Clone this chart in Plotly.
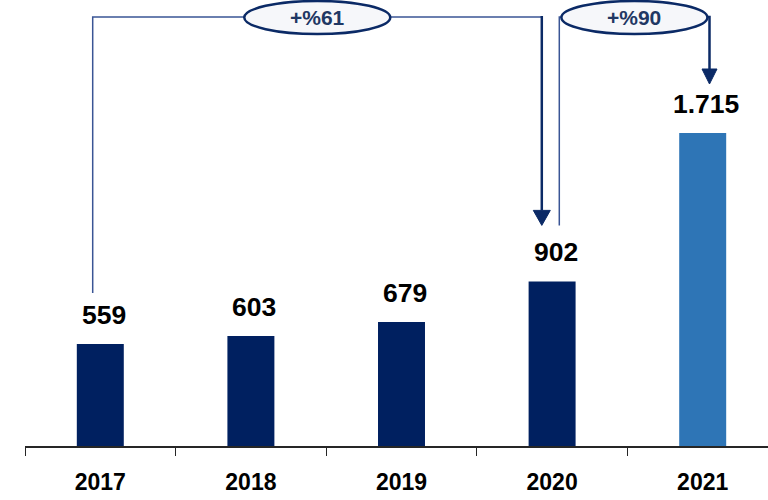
import plotly.graph_objects as go

years = ["2017", "2018", "2019", "2020", "2021"]
values = [559, 603, 679, 902, 1715]
value_labels = ["559", "603", "679", "902", "1.715"]
bar_colors = ["#002060", "#002060", "#002060", "#002060", "#2E75B6"]
growth_labels = ["+%61", "+%90"]  # 2017->2020, 2020->2021

NAVY = "#0B2A66"
THIN = "#3A5595"
FONT = "Liberation Sans, Arial, sans-serif"

# layout geometry
W, H = 768, 500
ML, MB = 25, 54
PLOT_H = H - MB
CAT_PX = 150.6
PX_PER_UNIT = 0.1825
YMAX = PLOT_H / PX_PER_UNIT
XMAX = -0.5 + (W - ML) / CAT_PX


def dy(px):
    return px / PX_PER_UNIT


def dx(px):
    return px / CAT_PX


idx = list(range(len(years)))
fig = go.Figure()
fig.add_trace(go.Bar(
    x=idx, y=values,
    marker=dict(color=bar_colors, line=dict(width=0)),
    width=0.312, hoverinfo="skip",
))

# value labels
for i, (v, t) in enumerate(zip(values, value_labels)):
    fig.add_annotation(x=i, y=v, text=t, showarrow=False, yanchor="middle",
                       yshift=29, xshift=3.5,
                       font=dict(family=FONT, size=26.5, color="#000000", weight="bold"))

shapes = []
top_y = YMAX - dy(17)
ell_h_top = YMAX - dy(1)
ell_h_bot = YMAX - dy(34)
ell_half = dx(73)
head_h = dy(15)


def arrow_head(x, tip, half_w_px):
    hw = dx(half_w_px)
    return dict(type="path", xref="x", yref="y",
                path=f"M {x-hw},{tip+head_h} L {x+hw},{tip+head_h} L {x},{tip} Z",
                fillcolor=NAVY, line=dict(color=NAVY, width=1), layer="above")


# bracket 1: 2017 -> 2020
x_start1 = 0 - dx(7.6)
y_start1 = values[0] + dy(51)
x_end1 = 3 - dx(10.3)
tip1 = values[3] + dy(56)
c1 = (x_start1 + x_end1) / 2
shapes.append(dict(type="path", xref="x", yref="y",
                   path=f"M {x_start1},{y_start1} L {x_start1},{top_y} L {c1-ell_half},{top_y}",
                   line=dict(color=THIN, width=1.5)))
shapes.append(dict(type="path", xref="x", yref="y",
                   path=f"M {c1+ell_half},{top_y} L {x_end1},{top_y}",
                   line=dict(color=THIN, width=1.5)))
shapes.append(dict(type="line", xref="x", yref="y", x0=x_end1, x1=x_end1,
                   y0=top_y + dy(1), y1=tip1 + head_h, line=dict(color=NAVY, width=2.5)))
shapes.append(arrow_head(x_end1, tip1, 8.5))

# bracket 2: 2020 -> 2021
x_start2 = 3 + dx(7.2)
y_start2 = values[3] + dy(56)
x_end2 = 4 + dx(6.8)
tip2 = values[4] + dy(49)
c2 = (x_start2 + x_end2) / 2
shapes.append(dict(type="path", xref="x", yref="y",
                   path=f"M {x_start2},{y_start2} L {x_start2},{top_y} L {c2-ell_half},{top_y}",
                   line=dict(color=THIN, width=1.5)))
shapes.append(dict(type="path", xref="x", yref="y",
                   path=f"M {c2+ell_half},{top_y} L {x_end2},{top_y} L {x_end2},{tip2+head_h}",
                   line=dict(color=NAVY, width=2.5)))
shapes.append(arrow_head(x_end2, tip2, 7.5))

# ellipses
for c in (c1, c2):
    shapes.append(dict(type="circle", xref="x", yref="y",
                       x0=c - ell_half, x1=c + ell_half, y0=ell_h_bot, y1=ell_h_top,
                       fillcolor="#F6F7FA", line=dict(color=NAVY, width=2.5), layer="above"))

for c, t in zip((c1, c2), growth_labels):
    fig.add_annotation(x=c, y=(ell_h_top + ell_h_bot) / 2, text=t, showarrow=False,
                       yanchor="middle",
                       font=dict(family=FONT, size=21, color="#1F3864", weight="bold"))

boundaries = [i - 0.5 for i in range(len(years) + 1)]

fig.update_layout(
    width=W, height=H,
    margin=dict(l=ML, r=0, t=0, b=MB, pad=0),
    plot_bgcolor="white", paper_bgcolor="white",
    showlegend=False,
    shapes=shapes,
    xaxis=dict(range=[-0.5, XMAX], tickmode="array",
               tickvals=idx, ticktext=years, automargin=False,
               ticks="outside", ticklen=0, tickwidth=0, tickcolor="rgba(0,0,0,0)",
               minor=dict(tickmode="array", tickvals=boundaries, ticks="outside",
                          ticklen=8, tickwidth=1.3, tickcolor="#262626", showgrid=False),
               showline=True, linecolor="#262626", linewidth=1.5,
               showgrid=False, zeroline=False, ticklabelstandoff=15,
               tickfont=dict(family=FONT, size=23, color="#000000", weight="bold")),
    yaxis=dict(range=[0, YMAX], visible=False, showgrid=False, zeroline=False,
               automargin=False),
)

fig.write_html("out.html", config={"displayModeBar": False},
               post_script="document.body.style.margin='0px';document.body.style.overflow='hidden';")
